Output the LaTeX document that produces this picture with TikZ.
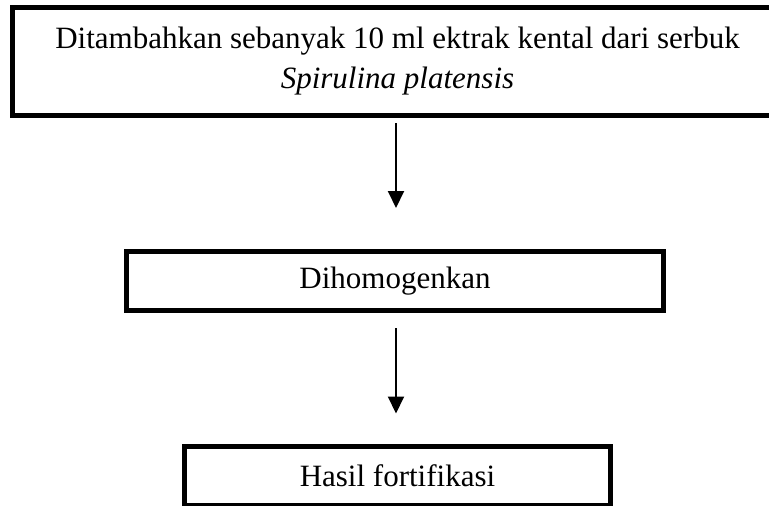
\documentclass[tikz,border=0pt]{standalone}
\usepackage{fontspec}
\setmainfont{Liberation Serif}
\usetikzlibrary{arrows.meta}
\tikzset{
	box/.style={draw,line width=5pt,align=center,inner sep=0pt,
		font=\fontsize{31}{40}\selectfont},
	flow/.style={-{Triangle[width=16pt,length=17pt]},line width=2pt}
}
\begin{document}
\begin{tikzpicture}[x=1pt,y=-1pt]
		\useasboundingbox (0,0) rectangle (769,506);
		\node[box,minimum width=770pt,minimum height=108pt] (A) at (397.5,61.5)
			{Ditambahkan sebanyak 10 ml ektrak kental dari serbuk\\
			\textit{Spirulina platensis}};
		\node[box,minimum width=537pt,minimum height=59pt] (B) at (395,281)
			{Dihomogenkan};
		\node[box,minimum width=426pt,minimum height=59pt] (C) at (397.5,475.5)
			{Hasil fortifikasi};
		\draw[flow,shorten <=5pt,shorten >=41pt] (A.south -| 396,0) -- (B.north -| 396,0);
		\draw[flow,shorten <=15pt,shorten >=30pt] (B.south -| 396,0) -- (C.north -| 396,0);
	\end{tikzpicture}
\end{document}
